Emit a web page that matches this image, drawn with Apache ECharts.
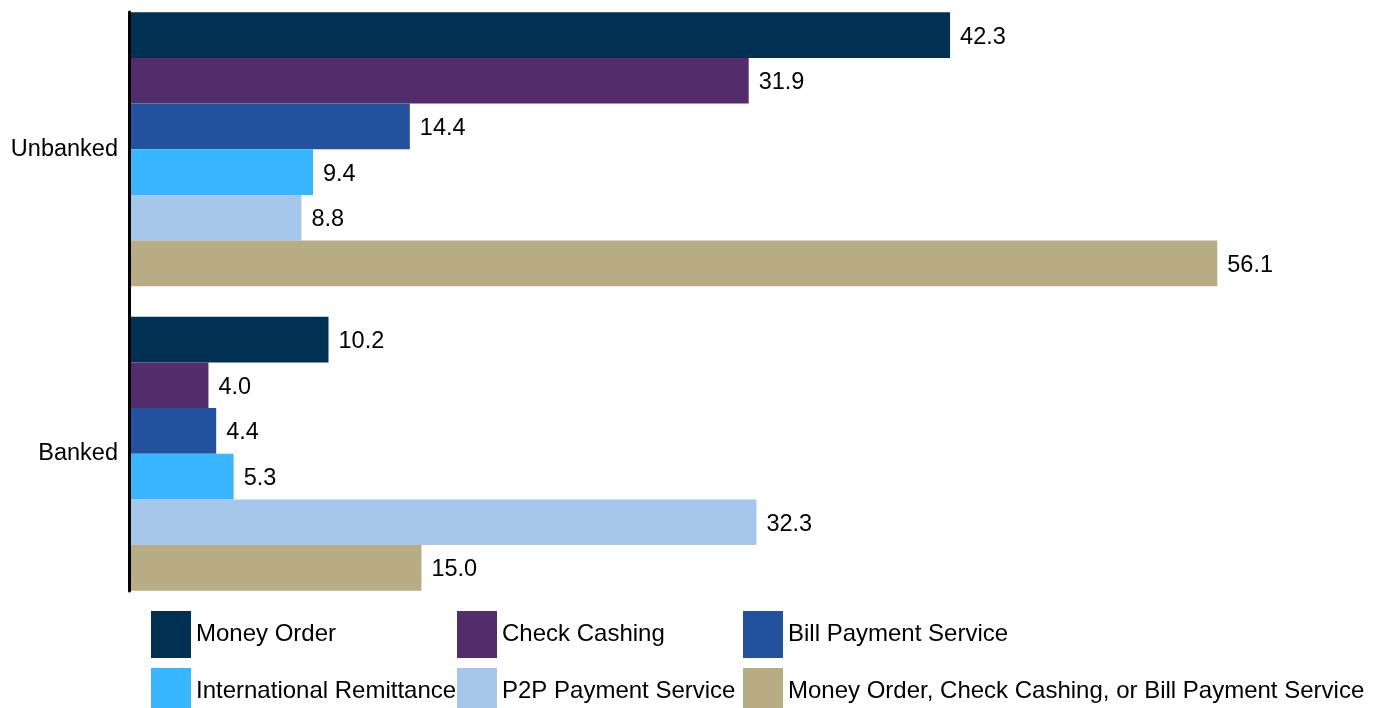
<!DOCTYPE html>
<html>
<head>
<meta charset="utf-8">
<script src="https://cdn.jsdelivr.net/npm/echarts@6/dist/echarts.min.js"></script>
<style>
  html, body { margin: 0; padding: 0; background: #fff; }
  #chart { width: 1380px; height: 708px; }
</style>
</head>
<body>
<div id="chart"></div>
<script>
const categories = ['Unbanked', 'Banked'];
const seriesNames = [
  'Money Order',
  'Check Cashing',
  'Bill Payment Service',
  'International Remittance',
  'P2P Payment Service',
  'Money Order, Check Cashing, or Bill Payment Service'
];
const moneyOrder = [42.3, 10.2];
const checkCashing = [31.9, 4.0];
const billPayment = [14.4, 4.4];
const intlRemittance = [9.4, 5.3];
const p2pPayment = [8.8, 32.3];
const anyOfThree = [56.1, 15.0];
const colors = ['#003153', '#532C6B', '#22519E', '#38B6FF', '#A6C6EB', '#B8AC84'];

const values = [moneyOrder, checkCashing, billPayment, intlRemittance, p2pPayment, anyOfThree];
const FONT = 'Liberation Sans, Arial, sans-serif';
const FS = 23.5;

const chart = echarts.init(document.getElementById('chart'));

const series = seriesNames.map((name, i) => ({
  name: name,
  type: 'bar',
  xAxisIndex: 0,
  yAxisIndex: 0,
  data: values[i],
  barGap: '0%',
  barCategoryGap: '10%',
  itemStyle: { color: colors[i] },
  label: {
    show: true,
    position: 'right',
    distance: 10,
    offset: [0, 2],
    color: '#000',
    fontFamily: FONT,
    fontSize: FS,
    formatter: p => p.value.toFixed(1)
  }
}));

// legend layout: 3 columns x 2 rows
const legendLefts = [151, 457, 743];
const legendTops = [611, 668];
const legends = seriesNames.map((name, i) => ({
  orient: 'horizontal',
  left: legendLefts[i % 3],
  top: legendTops[Math.floor(i / 3)],
  padding: 0,
  itemWidth: 40,
  itemHeight: 47,
  icon: 'rect',
  selectedMode: false,
  data: [name],
  textStyle: { color: '#000', fontSize: 24, fontFamily: FONT }
}));

chart.setOption({
  animation: false,
  backgroundColor: '#fff',
  color: colors,
  grid: [
    { left: 131, top: -3, width: 1161.8, height: 609, outerBoundsMode: 'none', containLabel: false },
    { left: 129.5, top: 12, width: 100, height: 579, outerBoundsMode: 'none', containLabel: false }
  ],
  xAxis: [
    { type: 'value', gridIndex: 0, min: 0, max: 60, show: false },
    { type: 'value', gridIndex: 1, min: 0, max: 1, show: false }
  ],
  yAxis: [
    {
      type: 'category',
      gridIndex: 0,
      data: categories,
      inverse: true,
      axisLine: { show: false },
      axisTick: { show: false },
      splitLine: { show: false },
      axisLabel: { color: '#000', fontSize: FS, fontFamily: FONT, margin: 13, padding: [0, 0, 14, 0] }
    },
    {
      type: 'value',
      gridIndex: 1,
      min: 0,
      max: 1,
      axisLine: { show: true, onZero: false, lineStyle: { color: '#000', width: 3 } },
      axisTick: { show: false },
      axisLabel: { show: false },
      splitLine: { show: false }
    }
  ],
  legend: legends,
  series: series
});
</script>
</body>
</html>
